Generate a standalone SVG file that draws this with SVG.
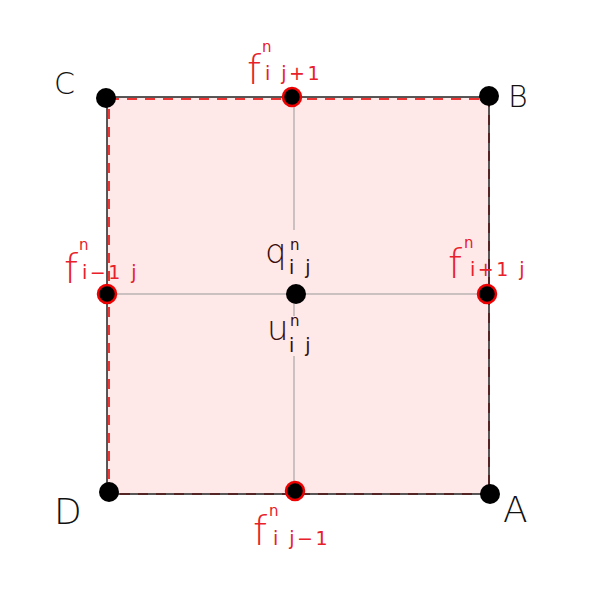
<svg xmlns="http://www.w3.org/2000/svg" width="600" height="600" viewBox="0 0 600 600">
<style>
.red{fill:#e8202a;font-family:"DejaVu Sans",sans-serif;font-weight:200;}
.blk{fill:#111;font-family:"DejaVu Sans",sans-serif;font-weight:200;}
.drk{fill:#3a0c0c;font-family:"DejaVu Sans",sans-serif;font-weight:200;}
.big{font-size:30px;}
.f{font-size:40px;}
.sup{font-size:15px;font-weight:normal;}
.sub{font-size:19px;font-weight:normal;letter-spacing:2.5px;}
.grid{stroke:#999;stroke-width:1;fill:none;}
.dot{fill:#000;}
.rdot{fill:#000;stroke:#e00;stroke-width:2.5;}
</style>
<g id="cell">
<rect x="107" y="97" width="382" height="397" fill="#fee8e8"/>
<rect x="109" y="99" width="380" height="395" fill="none" stroke="#e33" stroke-width="2" stroke-dasharray="10 8"/>
<rect x="107" y="97" width="382" height="397" fill="none" stroke="#222" stroke-width="1.5"/>
</g>
<g id="connectors">
<line class="grid" x1="294" y1="105" x2="294" y2="230"/>
<line class="grid" x1="294" y1="300" x2="294" y2="316"/>
<line class="grid" x1="294" y1="356" x2="294" y2="485"/>
<line class="grid" x1="112" y1="294" x2="482" y2="294"/>
</g>
<g id="C"><circle class="dot" cx="106" cy="98" r="10"/><text class="blk big" x="54" y="94">C</text></g>
<g id="B"><circle class="dot" cx="489" cy="96" r="10"/><text class="blk big" x="508" y="107">B</text></g>
<g id="D"><circle class="dot" cx="109" cy="492" r="10"/><text class="blk" style="font-size:36px" x="54" y="524">D</text></g>
<g id="A"><circle class="dot" cx="490" cy="494" r="10"/><text class="blk" style="font-size:36px" x="503" y="522">A</text></g>
<g id="center"><circle class="dot" cx="296" cy="294" r="10"/>
<text class="drk" style="font-size:34px" x="265" y="263">q</text><text class="drk sup" x="290" y="250">n</text><text class="drk sub" x="289" y="274">i j</text>
<text class="drk" style="font-size:34px" x="267" y="340">u</text><text class="drk sup" x="290" y="326">n</text><text class="drk sub" x="289" y="352">i j</text>
</g>
<g id="top"><circle class="rdot" cx="292" cy="97" r="9"/>
<text class="red f" x="247" y="84">f</text><text class="red sup" x="262" y="52">n</text><text class="red sub" x="265" y="80">i j+1</text></g>
<g id="left"><circle class="rdot" cx="107" cy="294" r="9"/>
<text class="red f" x="64" y="283">f</text><text class="red sup" x="79" y="250">n</text><text class="red sub" x="82" y="279">i−1 j</text></g>
<g id="right"><circle class="rdot" cx="487" cy="294" r="9"/>
<text class="red f" x="448" y="278">f</text><text class="red sup" x="464" y="248">n</text><text class="red sub" x="470" y="276">i+1 j</text></g>
<g id="bottom"><circle class="rdot" cx="295" cy="491" r="9"/>
<text class="red f" x="253" y="545">f</text><text class="red sup" x="269" y="516">n</text><text class="red sub" x="273" y="545">i j−1</text></g>
</svg>
